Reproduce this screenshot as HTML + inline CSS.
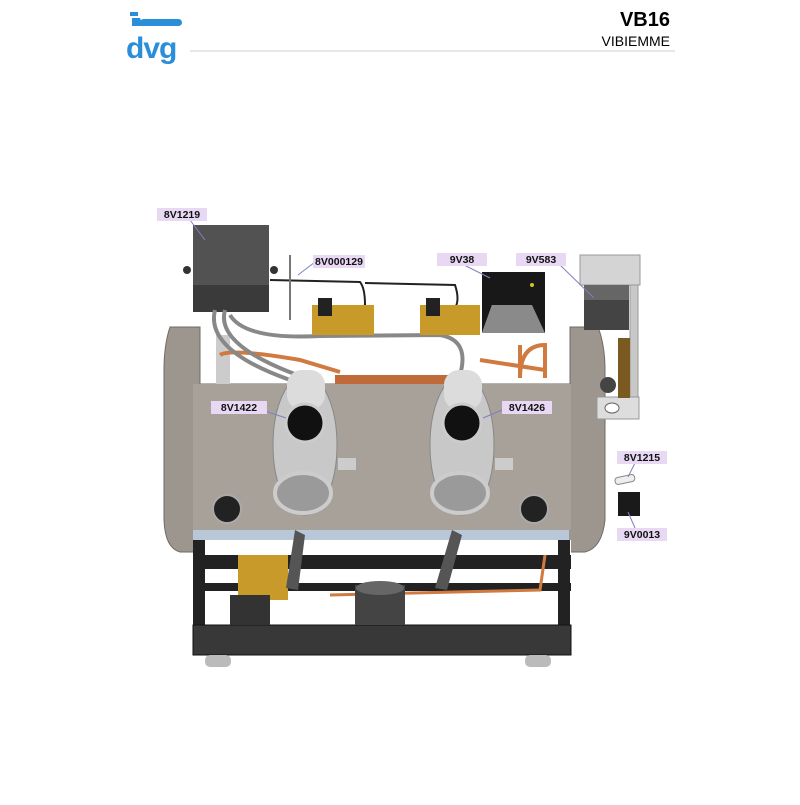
<!DOCTYPE html>
<html><head><style>
body{margin:0;background:#fff;width:800px;height:800px;overflow:hidden;font-family:"Liberation Sans",sans-serif}
</style></head><body>
<svg width="800" height="800" viewBox="0 0 800 800" xmlns="http://www.w3.org/2000/svg" font-family="Liberation Sans, sans-serif">
<!-- header -->
<g fill="#2a8fd8">
<rect x="130" y="12" width="8" height="4"/>
<path d="M132 18 L140 18 L143 26 L132 26 Z"/>
<rect x="140" y="19" width="42" height="7" rx="3.5"/>
<text x="126" y="58" font-size="30" font-weight="bold" letter-spacing="-1">dvg</text>
</g>
<line x1="190" y1="51" x2="675" y2="51" stroke="#cfcfcf" stroke-width="1"/>
<text x="670" y="26" font-size="20" font-weight="bold" text-anchor="end">VB16</text>
<text x="670" y="46" font-size="14" text-anchor="end">VIBIEMME</text>

<!-- back panel -->
<path d="M170 327 L200 327 L200 384 L570 384 L570 327 L598 327 Q605 345 605 370 L605 520 Q602 548 585 552 L180 552 Q165 548 164 520 L164 370 Q164 345 170 327Z" fill="#9c968f" stroke="#6f6a66"/>
<rect x="216" y="335" width="14" height="50" fill="#ccc"/>
<path d="M220 355 Q230 348 300 360 L340 372" stroke="#d07a40" stroke-width="4" fill="none"/>
<path d="M480 360 L545 370 M520 345 L520 378 Q520 345 545 345 L545 378" stroke="#d07a40" stroke-width="4" fill="none"/>
<rect x="335" y="375" width="120" height="10" fill="#c06a3a"/>
<!-- electrical box -->
<rect x="193" y="225" width="76" height="60" fill="#525252"/>
<rect x="193" y="285" width="76" height="27" fill="#3a3a3a"/>
<circle cx="187" cy="270" r="4" fill="#333"/><circle cx="274" cy="270" r="4" fill="#333"/>
<path d="M215 310 Q205 350 290 380 M225 310 Q215 345 300 376" stroke="#888" stroke-width="4" fill="none"/>
<path d="M230 315 Q245 340 320 336 L440 335 Q470 340 460 375" stroke="#888" stroke-width="4" fill="none"/>
<path d="M270 280 L360 282 Q365 288 365 305 L360 310 M365 283 L455 285 Q460 300 455 308" stroke="#222" stroke-width="2" fill="none"/>
<line x1="290" y1="255" x2="290" y2="320" stroke="#777" stroke-width="2"/>
<!-- valves -->
<rect x="312" y="305" width="62" height="30" fill="#c89a2a"/><rect x="318" y="298" width="14" height="18" fill="#222"/>
<rect x="420" y="305" width="60" height="30" fill="#c89a2a"/><rect x="426" y="298" width="14" height="18" fill="#222"/>
<!-- 9V38 -->
<path d="M482 272 L545 272 L545 333 L520 333 L510 305 L492 305 L482 333Z" fill="#181818"/>
<path d="M492 305 L532 305 L545 333 L482 333Z" fill="#8a8a8a"/>
<circle cx="532" cy="285" r="2" fill="#d8c020"/>
<!-- bracket 9V583 -->
<rect x="580" y="255" width="60" height="30" fill="#d4d4d4" stroke="#999"/>
<rect x="584" y="285" width="45" height="45" fill="#666"/>
<rect x="584" y="300" width="45" height="30" fill="#444"/>
<rect x="630" y="285" width="8" height="130" fill="#c8c8c8" stroke="#999"/>
<rect x="597" y="397" width="42" height="22" fill="#ddd" stroke="#999"/>
<ellipse cx="612" cy="408" rx="7" ry="5" fill="#fff" stroke="#666"/>
<rect x="618" y="338" width="12" height="60" fill="#7a5a20"/>
<circle cx="608" cy="385" r="8" fill="#444"/>
<!-- front panel -->
<rect x="193" y="384" width="378" height="146" fill="#a7a19a"/>
<rect x="193" y="530" width="376" height="10" fill="#b8c8d8"/>
<!-- frame -->
<rect x="193" y="540" width="378" height="115" fill="#fff"/>
<rect x="193" y="555" width="378" height="14" fill="#222"/>
<rect x="193" y="583" width="378" height="8" fill="#222"/>
<rect x="193" y="540" width="12" height="115" fill="#222"/>
<rect x="558" y="540" width="12" height="115" fill="#222"/>
<rect x="193" y="625" width="378" height="30" fill="#383838" stroke="#111"/>
<rect x="205" y="655" width="26" height="12" rx="5" fill="#bbb"/>
<rect x="525" y="655" width="26" height="12" rx="5" fill="#bbb"/>
<path d="M330 595 L540 590 L545 555" stroke="#d07a40" stroke-width="3" fill="none"/>
<rect x="238" y="555" width="50" height="45" fill="#c89a2a"/>
<rect x="230" y="595" width="40" height="30" fill="#333"/>
<rect x="355" y="585" width="50" height="40" fill="#444"/>
<ellipse cx="380" cy="588" rx="24" ry="7" fill="#666"/>
<!-- group heads -->
<g>
<ellipse cx="305" cy="445" rx="32" ry="70" fill="#c8c8c8" stroke="#888"/>
<rect x="287" y="370" width="38" height="40" rx="15" fill="#dcdcdc"/>
<circle cx="305" cy="423" r="19" fill="#111" stroke="#ccc" stroke-width="3"/>
<ellipse cx="303" cy="493" rx="28" ry="20" fill="#9a9a9a" stroke="#ccc" stroke-width="4"/>
<rect x="338" y="458" width="18" height="12" fill="#ccc"/>
<path d="M295 530 L305 535 L298 590 L286 588Z" fill="#555"/>
</g>
<g>
<ellipse cx="462" cy="445" rx="32" ry="70" fill="#c8c8c8" stroke="#888"/>
<rect x="444" y="370" width="38" height="40" rx="15" fill="#dcdcdc"/>
<circle cx="462" cy="423" r="19" fill="#111" stroke="#ccc" stroke-width="3"/>
<ellipse cx="460" cy="493" rx="28" ry="20" fill="#9a9a9a" stroke="#ccc" stroke-width="4"/>
<rect x="495" y="458" width="18" height="12" fill="#ccc"/>
<path d="M452 530 L462 535 L447 590 L435 588Z" fill="#555"/>
</g>
<circle cx="227" cy="509" r="14" fill="#222" stroke="#aaa" stroke-width="2"/>
<circle cx="534" cy="509" r="14" fill="#222" stroke="#aaa" stroke-width="2"/>
<!-- small parts -->
<rect x="615" y="476" width="20" height="7" rx="3" fill="#eee" stroke="#888" transform="rotate(-12 625 480)"/>
<rect x="618" y="492" width="22" height="24" fill="#1a1a1a"/>
<!-- leader lines -->
<g stroke="#8080c0" stroke-width="1">
<line x1="190" y1="220" x2="205" y2="240"/><line x1="315" y1="262" x2="298" y2="275"/>
<line x1="464" y1="265" x2="490" y2="278"/><line x1="560" y1="265" x2="594" y2="298"/>
<line x1="262" y1="410" x2="286" y2="418"/><line x1="502" y1="410" x2="483" y2="418"/>
<line x1="635" y1="463" x2="628" y2="477"/><line x1="635" y1="528" x2="628" y2="512"/>
</g>
<!-- labels -->
<g font-size="10.5" font-weight="bold" text-anchor="middle" fill="#111">
<rect x="157" y="208" width="50" height="13" fill="#e8d8f4"/><text x="182" y="218">8V1219</text>
<rect x="313" y="255" width="52" height="13" fill="#e8d8f4"/><text x="339" y="265">8V000129</text>
<rect x="437" y="253" width="50" height="13" fill="#e8d8f4"/><text x="462" y="263">9V38</text>
<rect x="516" y="253" width="50" height="13" fill="#e8d8f4"/><text x="541" y="263">9V583</text>
<rect x="211" y="401" width="56" height="13" fill="#e8d8f4"/><text x="239" y="411">8V1422</text>
<rect x="502" y="401" width="50" height="13" fill="#e8d8f4"/><text x="527" y="411">8V1426</text>
<rect x="617" y="451" width="50" height="13" fill="#e8d8f4"/><text x="642" y="461">8V1215</text>
<rect x="617" y="528" width="50" height="13" fill="#e8d8f4"/><text x="642" y="538">9V0013</text>
</g>
</svg>
</body></html>
